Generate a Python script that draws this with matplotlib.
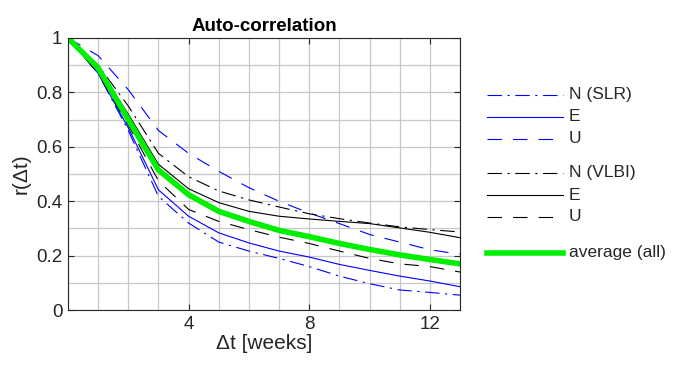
import numpy as np
import matplotlib
matplotlib.use("Agg")
import matplotlib.pyplot as plt
from matplotlib.lines import Line2D
from matplotlib.ticker import MultipleLocator

plt.rcParams["font.family"] = ["Liberation Sans", "DejaVu Sans"]

# ── DATA ──────────────────────────────────────────────────
weeks = [0, 1, 2, 3, 4, 5, 6, 7, 8, 9, 10, 11, 12, 13]

slr_n = [1.0, 0.87, 0.66, 0.418, 0.32, 0.25, 0.217, 0.19, 0.16, 0.125, 0.097, 0.074, 0.065, 0.055]
slr_e = [1.0, 0.87, 0.67, 0.442, 0.345, 0.284, 0.247, 0.217, 0.195, 0.168, 0.146, 0.125, 0.107, 0.086]
slr_u = [1.0, 0.935, 0.81, 0.66, 0.576, 0.51, 0.45, 0.40, 0.357, 0.318, 0.278, 0.25, 0.222, 0.205]

vlbi_n = [1.0, 0.90, 0.75, 0.576, 0.49, 0.438, 0.405, 0.379, 0.354, 0.336, 0.32, 0.306, 0.296, 0.287]
vlbi_e = [1.0, 0.89, 0.72, 0.536, 0.446, 0.395, 0.363, 0.345, 0.335, 0.326, 0.318, 0.302, 0.286, 0.266]
vlbi_u = [1.0, 0.87, 0.68, 0.475, 0.37, 0.326, 0.296, 0.268, 0.245, 0.217, 0.19, 0.17, 0.16, 0.14]

avg_all = [1.0, 0.89, 0.70, 0.515, 0.424, 0.363, 0.326, 0.293, 0.27, 0.245, 0.223, 0.203, 0.186, 0.17]

labels = ["N (SLR)", "E", "U", "N (VLBI)", "E", "U", "average (all)"]

# ── STYLES ────────────────────────────────────────────────
BLUE = "#0000ff"
DASHDOT = (0, (13, 5, 2, 5))
DASHED = (0, (13, 10))
styles = [
    (BLUE, DASHDOT, 0.8),
    (BLUE, "-", 0.8),
    (BLUE, DASHED, 0.8),
    ("black", DASHDOT, 0.8),
    ("black", "-", 0.8),
    ("black", DASHED, 0.8),
    ("#00ee00", "-", 4.0),
]
series = [slr_n, slr_e, slr_u, vlbi_n, vlbi_e, vlbi_u, avg_all]

# ── FIGURE ────────────────────────────────────────────────
fig = plt.figure(figsize=(6.73, 3.67), dpi=100)
ax = fig.add_axes([0.101, 0.155, 0.5825, 0.7415])

for vals, (c, ls, lw) in zip(series, styles):
    ax.plot(weeks, vals, color=c, linestyle=ls, linewidth=lw)

ax.set_xlim(0, 13)
ax.set_ylim(0, 1)
ax.set_xticks([4, 8, 12])
ax.set_yticks([0, 0.2, 0.4, 0.6, 0.8, 1.0])
ax.set_yticklabels(["0", "0.2", "0.4", "0.6", "0.8", "1"])
ax.xaxis.set_minor_locator(MultipleLocator(1))
ax.yaxis.set_minor_locator(MultipleLocator(0.1))
ax.grid(which="both", color="#c8c8c8", linewidth=0.9)
ax.set_axisbelow(True)
ax.tick_params(which="major", direction="in", length=4, labelsize=13.5,
               top=True, right=True, colors="#262626", pad=4)
ax.tick_params(which="minor", length=0)
for sp in ax.spines.values():
    sp.set_color("#262626")
    sp.set_linewidth(0.8)

ax.set_title("Auto-correlation", fontsize=13.5, fontweight="bold", pad=5)
ax.set_xlabel("Δt [weeks]", fontsize=15, labelpad=1, color="#262626")
ax.set_ylabel("r(Δt)", fontsize=15, labelpad=4, color="#262626")

# ── LEGEND (manual, grouped with gaps) ────────────────────
leg_y = [95, 117, 139, 173, 195, 217, 253]
W, H = 673.0, 367.0
for (c, ls, lw), lab, py in zip(styles, labels, leg_y):
    yf = 1 - py / H
    fig.add_artist(Line2D([487 / W, 563 / W], [yf, yf], color=c, linestyle=ls,
                          linewidth=lw, transform=fig.transFigure))
    fig.text(569 / W, yf, lab, fontsize=12.5, va="center", ha="left", color="#262626")

fig.savefig("out.png", dpi=100)
